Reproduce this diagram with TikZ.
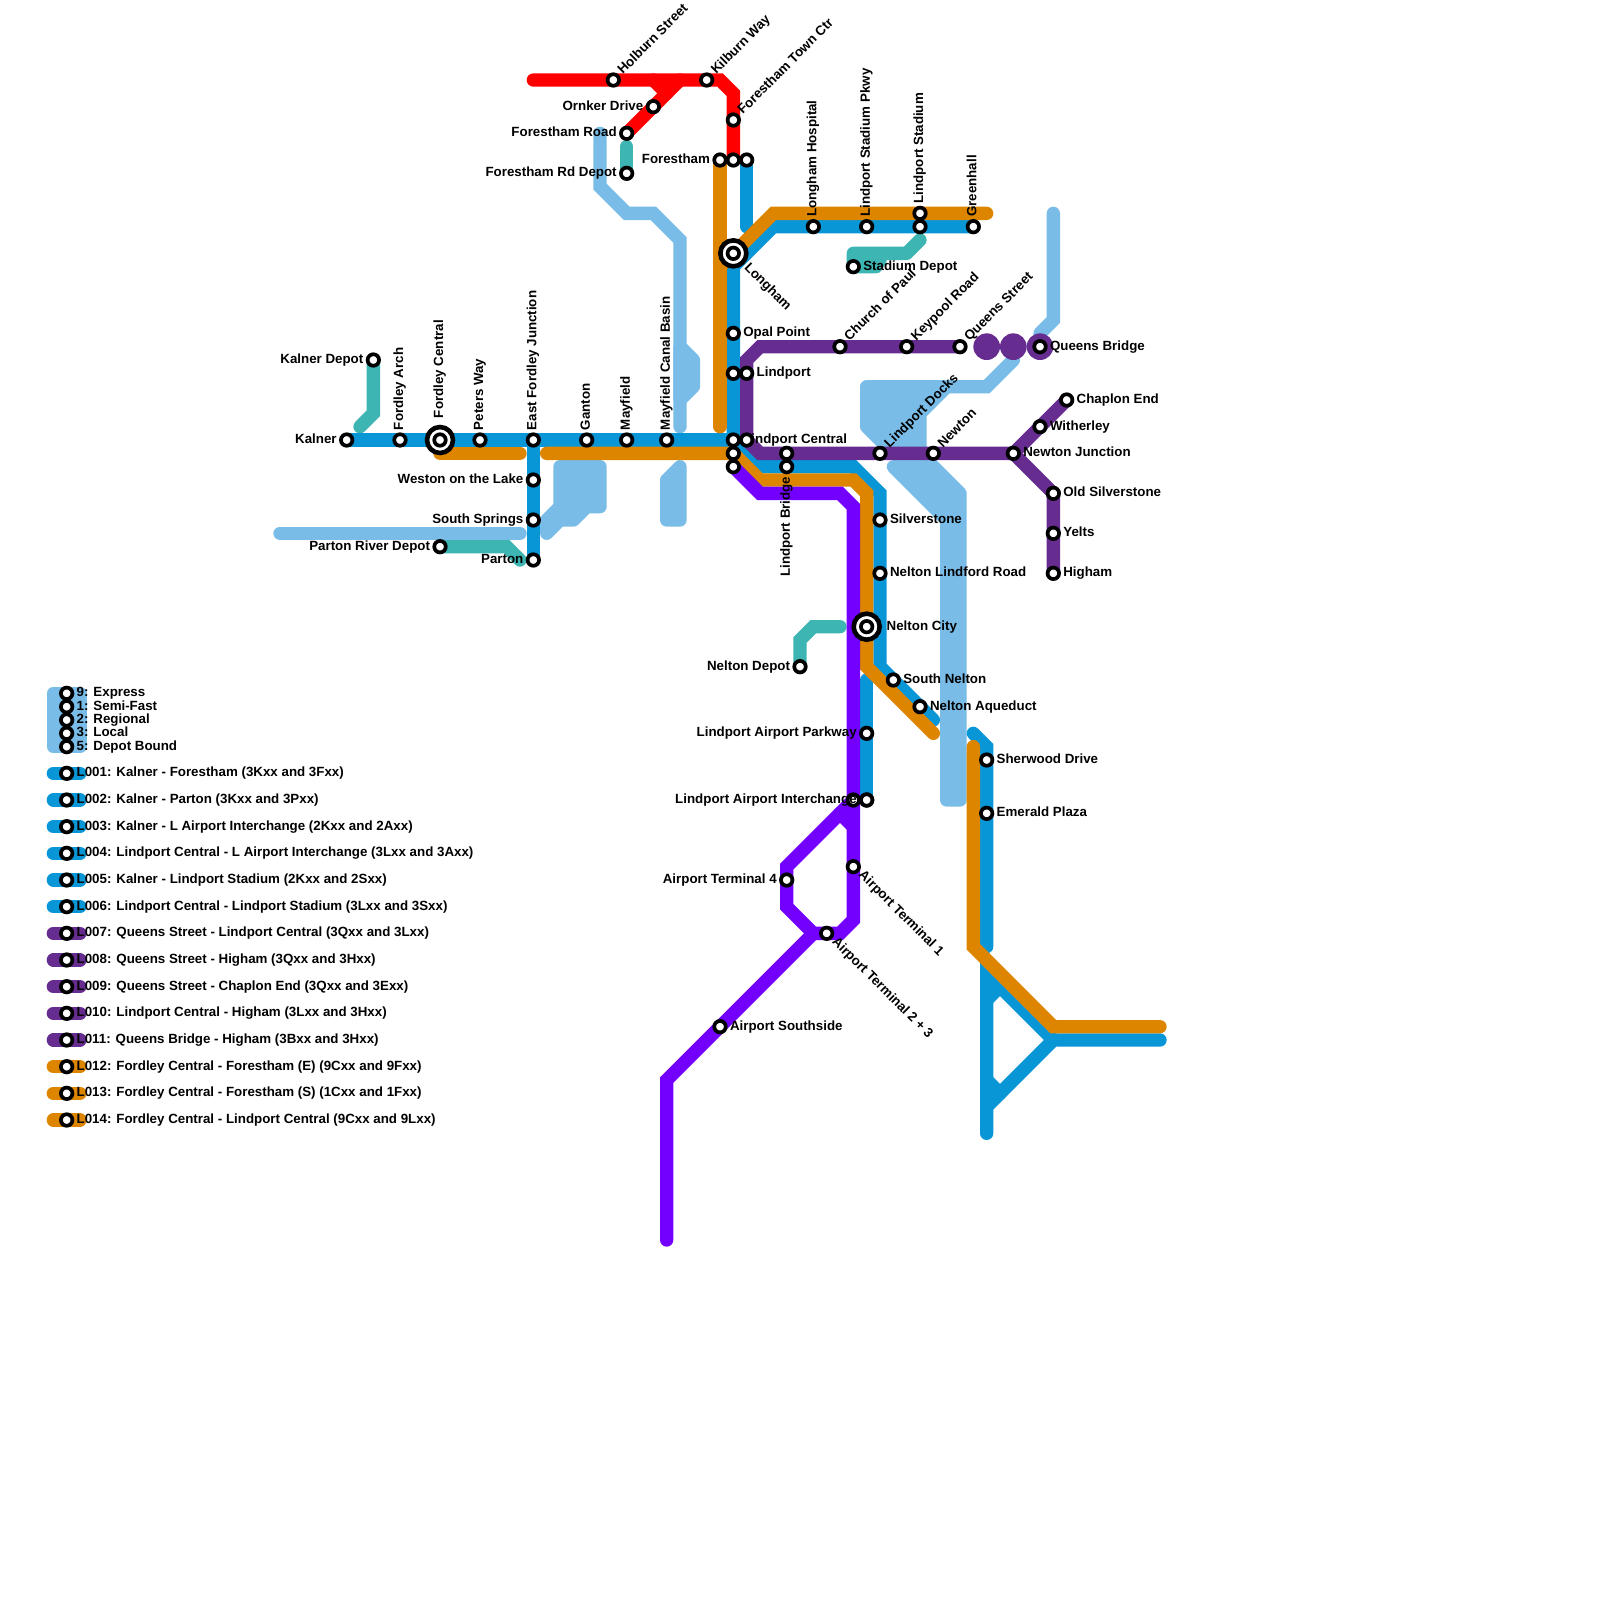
\documentclass[tikz,border=0pt]{standalone}
\usepackage{fontspec}
\newfontfamily\labf{Liberation Sans Bold}
\definecolor{cblue}{HTML}{0896D7}
\definecolor{clight}{HTML}{7ABCE8}
\definecolor{cteal}{HTML}{3DB5B2}
\definecolor{cpurple}{HTML}{662C90}
\definecolor{corange}{HTML}{DE8500}
\definecolor{cred}{HTML}{FF0000}
\definecolor{cviolet}{HTML}{7300FF}
\tikzset{
  route/.style={line width=13.333pt,line cap=round,line join=miter,miter limit=4},
  blob/.style={line width=13.333pt,line join=round,draw=clight,fill=clight},
  st/.style={circle,draw=black,fill=white,line width=3.7pt,minimum size=11.5pt,inner sep=0pt,outer sep=0pt},
  hub/.style={circle,draw=black,fill=white,line width=4.6pt,minimum size=26pt,inner sep=0pt,outer sep=0pt},
  bigdot/.style={circle,fill=cpurple,minimum size=26.67pt,inner sep=0pt,outer sep=0pt},
  txt/.style={font=\labf\fontsize{13.33}{13.33}\selectfont,inner sep=0pt,outer sep=0pt,text=black},
  lr/.style={txt,anchor=mid west,xshift=10pt,yshift=-1.2pt},
  ll/.style={txt,anchor=mid east,xshift=-10pt,yshift=-1.2pt},
  lu/.style={txt,rotate=90,anchor=mid west,xshift=10pt,yshift=-1pt},
  lb/.style={txt,rotate=90,anchor=mid east,xshift=-10pt,yshift=-1pt},
  ln/.style={txt,rotate=45,anchor=mid west,xshift=10.5pt,yshift=-1pt},
  ld/.style={txt,rotate=-45,anchor=mid west,xshift=10pt,yshift=-1pt},
}
\begin{document}
\begin{tikzpicture}[x=13.3333pt,y=-13.3333pt]
\useasboundingbox (0,0) rectangle (120,120);
% station positions
\foreach \n/\p in {
 kal/{26,33},fa/{30,33},fc/{33,33},pw/{36,33},efj/{40,33},gan/{44,33},may/{47,33},mcb/{50,33},
 lca/{55,33},lcb/{56,33},lcc/{55,34},lcd/{55,35},wol/{40,36},ss/{40,39},par/{40,42},kd/{28,27},prd/{33,41},
 hol/{46,6},kil/{53,6},ftc/{55,9},orn/{49,8},fr/{47,10},frd/{47,13},fa1/{54,12},fa2/{55,12},fa3/{56,12},
 lon/{55,19},opal/{55,25},lp1/{55,28},lp2/{56,28},lh/{61,17},lsp/{65,17},ls1/{69,16},ls2/{69,17},gh/{73,17},sd/{64,20},
 cop/{63,26},key/{68,26},qs/{72,26},qb/{78,26},lb1/{59,34},lb2/{59,35},ld/{66,34},new/{70,34},nj/{76,34},
 ce/{80,30},wit/{78,32},os/{79,37},yel/{79,40},hig/{79,43},sil/{66,39},nlr/{66,43},nc/{65,47},sn/{67,51},na/{69,53},
 nd/{60,50},lap/{65,55},lai/{64,60},lai2/{65,60},at1/{64,65},at4/{59,66},at23/{62,70},as/{54,77},she/{74,57},ep/{74,61},
 l9/{5,52},l1/{5,53},l2/{5,54},l3/{5,55},l5/{5,56},
 a1/{5,58},a2/{5,60},a3/{5,62},a4/{5,64},a5/{5,66},a6/{5,68},a7/{5,70},a8/{5,72},a9/{5,74},a10/{5,76},a11/{5,78},a12/{5,80},a13/{5,82},a14/{5,84}}
 {\coordinate (\n) at (\p);}
% light blue
\draw[route,clight] (45,10) -- (45,14) -- (47,16) -- (49,16) -- (51,18) -- (51,32);
\draw[route,clight] (21,40) -- (39,40);
\draw[route,clight] (79,16) -- (79,24) -- (78,25);
\draw[route,clight] (76,27) -- (74,29) -- (66,29);
\draw[blob] (51,26) -- (52,27) -- (52,29) -- (51,30) -- cycle;
\draw[blob] (42,35) -- (45,35) -- (45,38) -- (44,38) -- (43,39) -- (42,39) -- (41,40) -- (41,39) -- (42,38) -- cycle;
\draw[blob] (51,35) -- (50,36) -- (50,39) -- (51,39) -- cycle;
\draw[blob] (65,29) -- (71,29) -- (69,31) -- (69,34) -- (67,34) -- (65,32) -- cycle;
\draw[blob] (67,35) -- (68,35) -- (69,34) -- (72,37) -- (72,60) -- (71,60) -- (71,39) -- cycle;
\draw[blob] (4,52) rectangle (6,56);
% teal
\draw[route,cteal] (kd) -- (28,31) -- (27,32);
\draw[route,cteal] (prd) -- (38,41) -- (39,42);
\draw[route,cteal] (47,11) -- (frd);
\draw[route,cteal,line join=round] (69,18) -- (68,19) -- (64,19) -- (sd) -- (65.7,20) -- (66,19.5);
\draw[route,cteal] (nd) -- (60,48) -- (61,47) -- (63,47);
% blue
\draw[route,cblue] (kal) -- (lca);
\draw[route,cblue] (efj) -- (par);
\draw[route,cblue] (lon) -- (lca) -- (57,35) -- (64,35) -- (66,37) -- (66,50) -- (70,54);
\draw[route,cblue] (55,20) -- (58,17) -- (gh);
\draw[route,cblue] (fa3) -- (56,17);
\draw[route,cblue] (65,51) -- (lai2);
\draw[route,cblue] (73,55) -- (74,56) -- (74,71);
\draw[route,cblue] (87,78) -- (79,78) -- (74,83);
\draw[route,cblue] (79,78) -- (74,73) -- (74,85);
\draw[route,cblue] (74,75) -- (75,74);
\draw[route,cblue] (74,81) -- (75,82);
% purple
\draw[route,cpurple] (qs) -- (57,26) -- (56,27) -- (lcb) -- (57,34) -- (nj) -- (ce);
\draw[route,cpurple] (nj) -- (os) -- (hig);
\node[bigdot] (qdot1) at (74,26) {};
\node[bigdot] (qdot2) at (76,26) {};
\node[bigdot] (qdot3) at (qb) {};
% red
\draw[route,cred] (40,6) -- (54,6) -- (55,7) -- (fa2);
\draw[route,cred] (fr) -- (51,6);
\draw[route,cred] (49,6) -- (50,7);
% orange
\draw[route,corange] (fa1) -- (54,32);
\draw[route,corange] (54,20) -- (58,16) -- (74,16);
\draw[route,corange] (fc) ++(0,1) -- (39,34);
\draw[route,corange] (41,34) -- (lcc) -- (57,36) -- (64,36) -- (65,37) -- (65,50) -- (70,55);
\draw[route,corange] (73,56) -- (73,71) -- (79,77) -- (87,77);
% violet
\draw[route,cviolet] (lcd) -- (57,37) -- (63,37) -- (64,38) -- (64,69) -- (63,70) -- (61,70) -- (59,68) -- (59,65) -- (lai);
\draw[route,cviolet] (61,70) -- (50,81) -- (50,93);
\draw[route,cviolet] (63,61) -- (64,62);
% legend lines
\foreach \c/\i in {cblue/a1,cblue/a2,cblue/a3,cblue/a4,cblue/a5,cblue/a6,cpurple/a7,cpurple/a8,cpurple/a9,cpurple/a10,cpurple/a11,corange/a12,corange/a13,corange/a14}
  {\draw[route,\c] ([xshift=-13.333pt]\i) -- ([xshift=13.333pt]\i);}
% labels
\node[lu] (fa-l) at (fa) {Fordley Arch};
\node[lu,xshift=12pt] (fc-l) at (fc) {Fordley Central};
\node[lu] (pw-l) at (pw) {Peters Way};
\node[lu] (efj-l) at (efj) {East Fordley Junction};
\node[lu] (gan-l) at (gan) {Ganton};
\node[lu] (may-l) at (may) {Mayfield};
\node[lu] (mcb-l) at (mcb) {Mayfield Canal Basin};
\node[lu] (lh-l) at (lh) {Longham Hospital};
\node[lu] (lsp-l) at (lsp) {Lindport Stadium Pkwy};
\node[lu] (ls-l) at (ls1) {Lindport Stadium};
\node[lu] (gh-l) at (gh) {Greenhall};
\node[lb] (lb-l) at (lb2) {Lindport Bridge};
\node[ln] (hol-l) at (hol) {Holburn Street};
\node[ln] (kil-l) at (kil) {Kilburn Way};
\node[ln] (ftc-l) at (ftc) {Forestham Town Ctr};
\node[ln] (cop-l) at (cop) {Church of Paul};
\node[ln] (key-l) at (key) {Keypool Road};
\node[ln] (qs-l) at (qs) {Queens Street};
\node[ln] (ld-l) at (ld) {Lindport Docks};
\node[ln] (new-l) at (new) {Newton};
\node[ld,xshift=8pt] (lon-l) at (lon) {Longham};
\node[ld] (at1-l) at (at1) {Airport Terminal 1};
\node[ld] (at23-l) at (at23) {Airport Terminal 2 + 3};
\node[lr] (sd-l) at (sd) {Stadium Depot};
\node[lr] (opal-l) at (opal) {Opal Point};
\node[lr] (lp-l) at (lp2) {Lindport};
\node[lr] (lc-l) at (lca) {Lindport Central};
\node[lr] (sil-l) at (sil) {Silverstone};
\node[lr] (nlr-l) at (nlr) {Nelton Lindford Road};
\node[lr,xshift=10pt] (nc-l) at (nc) {Nelton City};
\node[lr] (sn-l) at (sn) {South Nelton};
\node[lr] (na-l) at (na) {Nelton Aqueduct};
\node[lr] (she-l) at (she) {Sherwood Drive};
\node[lr] (ep-l) at (ep) {Emerald Plaza};
\node[lr] (qb-l) at (qb) {Queens Bridge};
\node[lr] (ce-l) at (ce) {Chaplon End};
\node[lr] (wit-l) at (wit) {Witherley};
\node[lr] (nj-l) at (nj) {Newton Junction};
\node[lr] (os-l) at (os) {Old Silverstone};
\node[lr] (yel-l) at (yel) {Yelts};
\node[lr] (hig-l) at (hig) {Higham};
\node[lr] (as-l) at (as) {Airport Southside};
\node[ll] (kd-l) at (kd) {Kalner Depot};
\node[ll] (kal-l) at (kal) {Kalner};
\node[ll] (wol-l) at (wol) {Weston on the Lake};
\node[ll] (ss-l) at (ss) {South Springs};
\node[ll] (prd-l) at (prd) {Parton River Depot};
\node[ll] (par-l) at (par) {Parton};
\node[ll] (fa-lb) at (fa1) {Forestham};
\node[ll] (orn-l) at (orn) {Ornker Drive};
\node[ll] (fr-l) at (fr) {Forestham Road};
\node[ll] (frd-l) at (frd) {Forestham Rd Depot};
\node[ll] (nd-l) at (nd) {Nelton Depot};
\node[ll] (lap-l) at (lap) {Lindport Airport Parkway};
\node[ll] (at4-l) at (at4) {Airport Terminal 4};
% legend text
\foreach \i/\t in {l9/9: Express,l1/1: Semi-Fast,l2/2: Regional,l3/3: Local,l5/5: Depot Bound,
 a1/L001: Kalner - Forestham (3Kxx and 3Fxx),
 a2/L002: Kalner - Parton (3Kxx and 3Pxx),
 a3/L003: Kalner - L Airport Interchange (2Kxx and 2Axx),
 a4/L004: Lindport Central - L Airport Interchange (3Lxx and 3Axx),
 a5/L005: Kalner - Lindport Stadium (2Kxx and 2Sxx),
 a6/L006: Lindport Central - Lindport Stadium (3Lxx and 3Sxx),
 a7/L007: Queens Street - Lindport Central (3Qxx and 3Lxx),
 a8/L008: Queens Street - Higham (3Qxx and 3Hxx),
 a9/L009: Queens Street - Chaplon End (3Qxx and 3Exx),
 a10/L010: Lindport Central - Higham (3Lxx and 3Hxx),
 a11/L011: Queens Bridge - Higham (3Bxx and 3Hxx),
 a12/L012: Fordley Central - Forestham (E) (9Cxx and 9Fxx),
 a13/L013: Fordley Central - Forestham (S) (1Cxx and 1Fxx),
 a14/L014: Fordley Central - Lindport Central (9Cxx and 9Lxx)}
 {\node[lr] (\i-t) at (\i) {\t};}
% interchange rings and station markers
\node[hub] (fc-h) at (fc) {};
\node[hub] (lon-h) at (lon) {};
\node[hub] (nc-h) at (nc) {};
\foreach \n in {kal,fa,fc,pw,efj,gan,may,mcb,lca,lcb,lcc,lcd,wol,ss,par,kd,prd,hol,kil,ftc,orn,fr,frd,fa1,fa2,fa3,
 lon,opal,lp1,lp2,lh,lsp,ls1,ls2,gh,sd,cop,key,qs,qb,lb1,lb2,ld,new,nj,ce,wit,os,yel,hig,sil,nlr,nc,sn,na,nd,lap,lai,lai2,at1,at4,at23,as,she,ep,
 l9,l1,l2,l3,l5,a1,a2,a3,a4,a5,a6,a7,a8,a9,a10,a11,a12,a13,a14}
 {\node[st] (\n-n) at (\n) {};}
% this label runs over the marker before its own station
\node[ll] (lai-l) at (lai2) {Lindport Airport Interchange};
\node[st] (lai2-n2) at (lai2) {};
\end{tikzpicture}
\end{document}
